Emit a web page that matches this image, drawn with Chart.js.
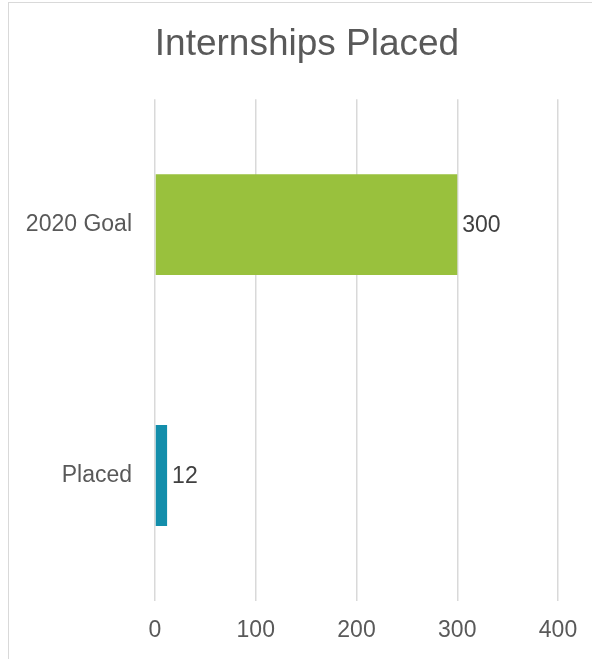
<!DOCTYPE html>
<html>
<head>
<meta charset="utf-8">
<script src="https://cdn.jsdelivr.net/npm/chart.js@4"></script>
<style>
  html, body { margin: 0; padding: 0; background: #fff; overflow: hidden; }
  #frame { position: absolute; left: 8px; top: 2px; width: 700px; height: 800px; border: 1.5px solid #d9d9d9; box-sizing: border-box; }
  #c { position: absolute; left: 0; top: 0; }
</style>
</head>
<body>
<div id="frame"></div>
<canvas id="c" width="592" height="659"></canvas>
<script>
const categories = ["2020 Goal", "Placed"];
const values = [300, 12];
const barColors = ["#99C13D", "#138EAB"];
const xTicks = [0, 100, 200, 300, 400];
const titleText = "Internships Placed";

const FONT = "'Liberation Sans', Arial, sans-serif";

const valueLabels = {
  id: "valueLabels",
  afterDatasetsDraw(chart) {
    const ctx = chart.ctx;
    const meta = chart.getDatasetMeta(0);
    ctx.save();
    ctx.font = "23px " + FONT;
    ctx.fillStyle = "#404040";
    ctx.textAlign = "left";
    ctx.textBaseline = "middle";
    meta.data.forEach((bar, i) => {
      ctx.fillText(String(values[i]), bar.x + 5, bar.y + 1);
    });
    ctx.restore();
  }
};

new Chart(document.getElementById("c"), {
  type: "bar",
  data: {
    labels: categories,
    datasets: [{
      data: values,
      backgroundColor: barColors,
      borderWidth: 0,
      categoryPercentage: 1,
      barPercentage: 0.402
    }]
  },
  options: {
    indexAxis: "y",
    responsive: false,
    animation: false,
    devicePixelRatio: 1,
    layout: { padding: { top: 0, right: 0, bottom: 0, left: 22 } },
    plugins: {
      legend: { display: false },
      tooltip: { enabled: false },
      title: {
        display: true,
        text: titleText,
        color: "#595959",
        font: { family: FONT, size: 37, weight: "normal", lineHeight: 1.2 },
        padding: { top: 23, bottom: 31.8 }
      }
    },
    scales: {
      x: {
        min: xTicks[0],
        max: xTicks[xTicks.length - 1],
        afterBuildTicks(scale) { scale.ticks = xTicks.map(v => ({ value: v })); },
        afterFit(scale) { scale.height = 58; scale.paddingRight = 34; scale.paddingLeft = 0; },
        grid: { color: "#d9d9d9", lineWidth: 1.5, drawTicks: false },
        border: { display: false },
        ticks: { color: "#595959", font: { family: FONT, size: 23 }, padding: 16, maxRotation: 0 }
      },
      y: {
        offset: true,
        afterFit(scale) { scale.width = 133; },
        grid: { display: false, drawTicks: false },
        border: { display: false },
        ticks: { color: "#595959", font: { family: FONT, size: 23 }, padding: 23 }
      }
    }
  },
  plugins: [valueLabels]
});
</script>
</body>
</html>
